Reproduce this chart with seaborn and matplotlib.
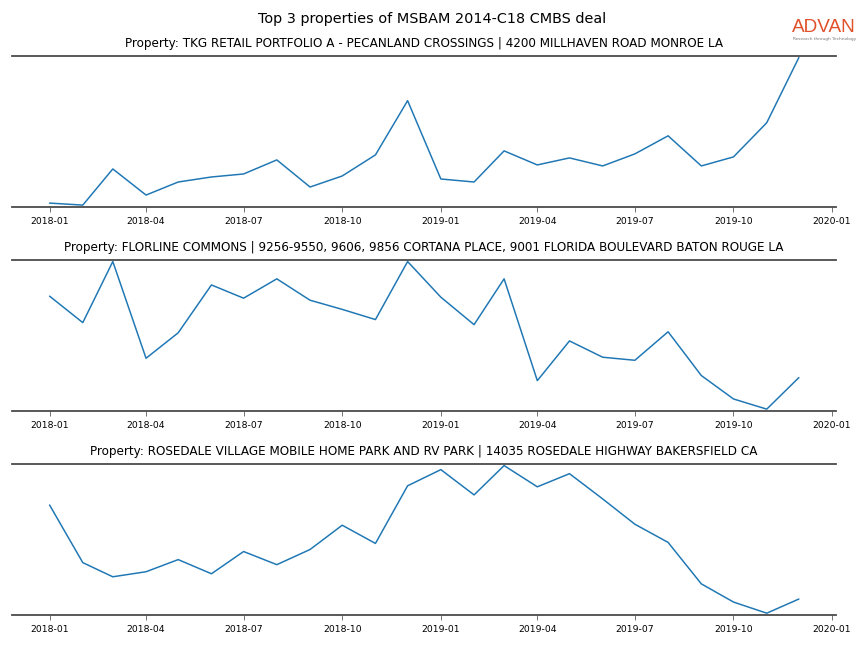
import pandas as pd
import seaborn as sns
import matplotlib.pyplot as plt
import matplotlib.dates as mdates

months = pd.date_range("2018-01-01", "2019-12-01", freq="MS")

titles = [
    "Property: TKG RETAIL PORTFOLIO A - PECANLAND CROSSINGS | 4200 MILLHAVEN ROAD MONROE LA",
    "Property: FLORLINE COMMONS | 9256-9550, 9606, 9856 CORTANA PLACE, 9001 FLORIDA BOULEVARD BATON ROUGE LA",
    "Property: ROSEDALE VILLAGE MOBILE HOME PARK AND RV PARK | 14035 ROSEDALE HIGHWAY BAKERSFIELD CA",
]

visits_pecanland = [3, 1, 37, 11, 24, 29, 32, 46, 19, 30, 51, 105,
                    27, 24, 55, 41, 48, 40, 52, 70, 40, 49, 83, 148]
visits_florline = [114, 88, 148, 53, 78, 125, 112, 131, 110, 101, 91, 148,
                   113, 86, 131, 31, 70, 54, 51, 79, 36, 13, 3, 34]
visits_rosedale = [109, 52, 38, 43, 55, 41, 63, 50, 65, 89, 71, 128,
                   144, 119, 148, 127, 140, 115, 90, 72, 31, 13, 2, 16]

series = [visits_pecanland, visits_florline, visits_rosedale]

sns.set_style("ticks")
plt.rcParams["font.family"] = ["DejaVu Sans"]
plt.rcParams["text.color"] = "black"

fig, axes = plt.subplots(3, 1, figsize=(12, 9), dpi=72)
fig.subplots_adjust(left=0.014, right=0.968, top=0.914, bottom=0.051, hspace=0.35)

for ax, title, values in zip(axes, titles, series):
    df = pd.DataFrame({"month": months, "visits": values})
    sns.lineplot(data=df, x="month", y="visits", ax=ax, color="#1f77b4", linewidth=1.5)
    ax.set_title(title, fontsize=12, color="black", pad=9)
    ax.set_xlabel("")
    ax.set_ylabel("")
    ax.set_yticks([])
    ax.margins(x=0.05, y=0.012)
    ax.xaxis.set_major_locator(mdates.MonthLocator(bymonth=[1, 4, 7, 10]))
    ax.xaxis.set_major_formatter(mdates.DateFormatter("%Y-%m"))
    ax.tick_params(axis="x", labelsize=9.2, length=5, width=0.8, pad=5, color="#555555",
                   labelcolor="black")
    for side in ["left", "right"]:
        ax.spines[side].set_visible(False)
    for side in ["top", "bottom"]:
        ax.spines[side].set_color("#4a4a4a")
        ax.spines[side].set_linewidth(1.8)

fig.suptitle("Top 3 properties of MSBAM 2014-C18 CMBS deal", fontsize=14.4, y=0.982,
             color="black")

# logo
fig.text(0.954, 0.957, "ADVAN", color="#e0512b", fontsize=19, ha="center", va="center",
         family=["Liberation Sans"], weight="medium")
fig.text(0.954, 0.940, "Research through Technology", color="#777777", fontsize=4.3,
         ha="center", va="center")

fig.savefig("out.png", dpi=72)
